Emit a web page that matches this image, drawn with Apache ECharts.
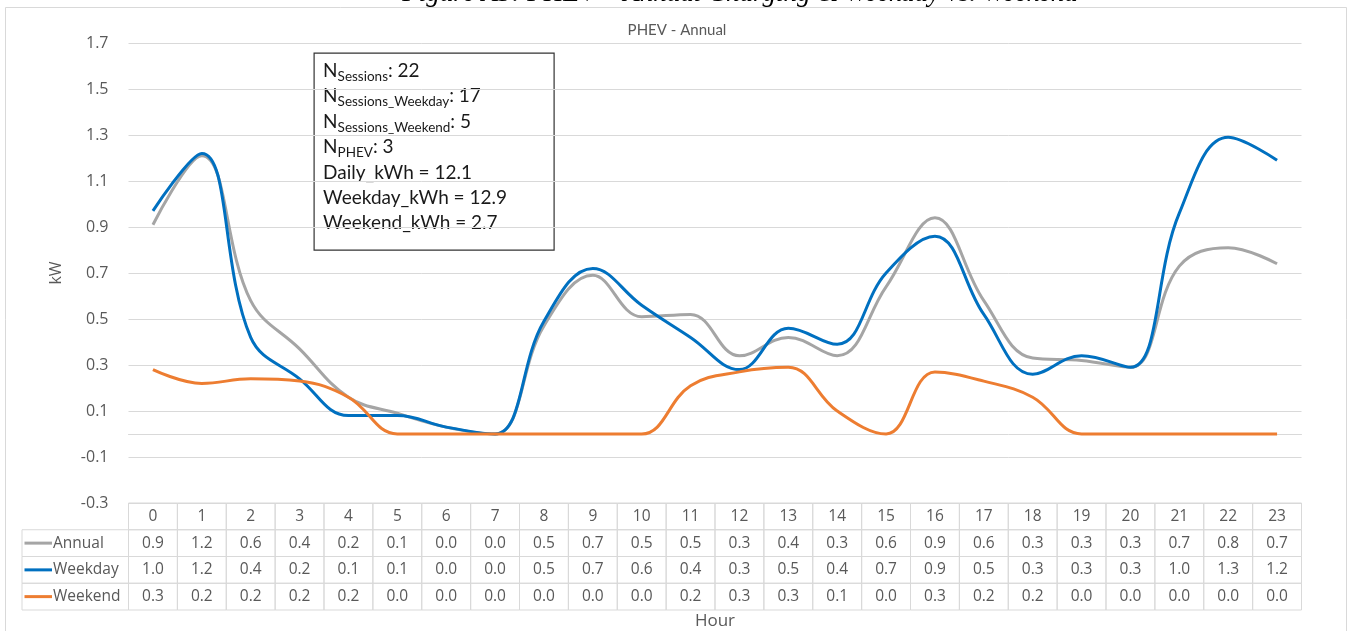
<!DOCTYPE html>
<html>
<head>
<meta charset="utf-8">
<script src="https://cdn.jsdelivr.net/npm/echarts@6/dist/echarts.min.js"></script>
<style>
  html, body { margin: 0; padding: 0; background: #fff; }
  #chart { width: 1354px; height: 631px; }
</style>
</head>
<body>
<div id="chart"></div>
<script>
// hours of the day
const hours = [0, 1, 2, 3, 4, 5, 6, 7, 8, 9, 10, 11, 12, 13, 14, 15, 16, 17, 18, 19, 20, 21, 22, 23]

// kW
const annual = [0.91, 1.21, 0.58, 0.37, 0.16, 0.09, 0.03, 0.0, 0.47, 0.69, 0.51, 0.52, 0.34, 0.42, 0.34, 0.64, 0.94, 0.58, 0.33, 0.32, 0.29, 0.73, 0.81, 0.74]
const weekday = [0.97, 1.22, 0.42, 0.24, 0.08, 0.08, 0.03, 0.0, 0.49, 0.72, 0.56, 0.42, 0.28, 0.46, 0.39, 0.70, 0.86, 0.52, 0.26, 0.34, 0.29, 0.96, 1.29, 1.19]
const weekend = [0.28, 0.22, 0.24, 0.23, 0.16, 0.0, 0.0, 0.0, 0.0, 0.0, 0.0, 0.21, 0.27, 0.29, 0.10, 0.0, 0.27, 0.23, 0.16, 0.0, 0.0, 0.0, 0.0, 0.0]

const seriesNames = ['Annual', 'Weekday', 'Weekend']
const seriesColors = ['#a5a5a5', '#0070c0', '#ed7d31']
const tableRows = ['', 'Annual', 'Weekday', 'Weekend']

const figureTitle = 'Figure A3: PHEV – Annual Charging & Weekday vs. Weekend'
const chartTitle = 'PHEV - Annual'

const yMin = -0.3
const yMax = 1.7
const yStep = 0.2

const FONT = '"Open Sans", "Noto Sans", sans-serif'
const BOX_FONT = 'Lato, "Noto Sans", sans-serif'

// table cells: header row of hours, then one row per series
const cells = []
const values = [annual, weekday, weekend]
hours.forEach((h, i) => {
  cells.push({ value: [i, 0], text: String(h) })
})
values.forEach((arr, r) => {
  arr.forEach((v, i) => {
    cells.push({ value: [i, r + 1], text: v.toFixed(1) })
  })
})

const myChart = echarts.init(document.getElementById('chart'), null, { renderer: 'canvas' })

const renderCell = (params, api) => {
  const cell = cells[params.dataIndex]
  const col = api.value(0)
  const row = api.value(1)
  const p = api.coord([col, row])
  const s = api.size([1, 1])
  const x0 = p[0] - s[0] / 2
  const y0 = p[1] - s[1] / 2
  const children = [
    {
      type: 'rect',
      shape: { x: x0, y: y0, width: s[0], height: s[1] },
      style: { fill: 'none', stroke: '#d9d9d9', lineWidth: 1 }
    },
    {
      type: 'text',
      x: p[0],
      y: p[1],
      style: { text: cell.text, align: 'center', verticalAlign: 'middle', fill: '#595959', font: '15.5px ' + FONT }
    }
  ]
  // legend key cell left of the first column
  if (col === 0 && row > 0) {
    const left = 22
    children.push({
      type: 'rect',
      shape: { x: left, y: y0, width: x0 - left, height: s[1] },
      style: { fill: 'none', stroke: '#d9d9d9', lineWidth: 1 }
    })
    children.push({
      type: 'line',
      shape: { x1: left + 2.5, y1: p[1], x2: left + 30, y2: p[1] },
      style: { stroke: seriesColors[row - 1], lineWidth: 3 }
    })
    children.push({
      type: 'text',
      x: left + 31,
      y: p[1],
      style: { text: seriesNames[row - 1], align: 'left', verticalAlign: 'middle', fill: '#595959', font: '15.5px ' + FONT }
    })
  }
  return { type: 'group', children: children }
}

const lineSeries = values.map((arr, i) => ({
  name: seriesNames[i],
  type: 'line',
  xAxisIndex: 0,
  yAxisIndex: 0,
  data: arr,
  smooth: 0.4,
  symbol: 'none',
  lineStyle: { color: seriesColors[i], width: 3 },
  itemStyle: { color: seriesColors[i] },
  z: 3 + i
}))

const option = {
  animation: false,
  backgroundColor: '#fff',
  textStyle: { fontFamily: FONT },
  title: {
    text: chartTitle,
    left: 'center',
    top: 18,
    textStyle: { fontFamily: BOX_FONT, fontSize: 15, fontWeight: 'normal', color: '#595959' }
  },
  grid: [
    { left: 128.5, right: 52.5, top: 43, bottom: 128 },
    { left: 128.5, right: 52.5, top: 503, bottom: 21 }
  ],
  xAxis: [
    {
      type: 'category',
      gridIndex: 0,
      data: hours,
      boundaryGap: true,
      axisLine: { show: true, onZero: true, lineStyle: { color: '#d9d9d9', width: 1 } },
      axisTick: { show: false },
      axisLabel: { show: false },
      splitLine: { show: false }
    },
    {
      type: 'category',
      gridIndex: 1,
      data: hours,
      boundaryGap: true,
      name: 'Hour',
      nameLocation: 'middle',
      nameGap: 3,
      nameTextStyle: { fontSize: 17, color: '#595959', verticalAlign: 'top' },
      axisLine: { show: false },
      axisTick: { show: false },
      axisLabel: { show: false },
      splitLine: { show: false }
    }
  ],
  yAxis: [
    {
      type: 'value',
      gridIndex: 0,
      min: yMin,
      max: yMax,
      interval: yStep,
      name: 'kW',
      nameLocation: 'middle',
      nameGap: 64,
      nameTextStyle: { fontSize: 16, color: '#595959' },
      axisLine: { show: false },
      axisTick: { show: false },
      axisLabel: {
        color: '#595959',
        fontSize: 16,
        margin: 20,
        formatter: (v) => v.toFixed(1)
      },
      splitLine: { show: true, lineStyle: { color: '#d9d9d9', width: 1 } }
    },
    {
      type: 'category',
      gridIndex: 1,
      data: tableRows,
      inverse: true,
      axisLine: { show: false },
      axisTick: { show: false },
      axisLabel: { show: false },
      splitLine: { show: false }
    }
  ],
  series: [
    ...lineSeries,
    {
      type: 'custom',
      xAxisIndex: 1,
      yAxisIndex: 1,
      data: cells.map(c => c.value),
      encode: { x: 0, y: 1 },
      renderItem: renderCell,
      silent: true,
      z: 2
    }
  ],
  graphic: [
    {
      type: 'rect',
      shape: { x: 5.5, y: 7.5, width: 1341, height: 640 },
      style: { fill: 'none', stroke: '#d9d9d9', lineWidth: 1 },
      silent: true
    },
    {
      type: 'text',
      x: 740,
      y: -6,
      style: {
        text: figureTitle,
        align: 'center',
        verticalAlign: 'middle',
        font: 'italic 27px "Liberation Serif", "DejaVu Serif", serif',
        fill: '#000'
      },
      silent: true
    },
    {
      type: 'group',
      left: 313.5,
      top: 52.5,
      children: [
        {
          type: 'rect',
          shape: { x: 0, y: 0, width: 240, height: 197 },
          style: { fill: '#fff', stroke: '#333', lineWidth: 1.2 }
        },
        {
          type: 'text',
          x: 9,
          y: 5,
          style: {
            text: [
              '{m|N}{s|Sessions}{m|: 22}',
              '{m|N}{s|Sessions_Weekday}{m|: 17}',
              '{m|N}{s|Sessions_Weekend}{m|: 5}',
              '{m|N}{s|PHEV}{m|: 3}',
              '{m|Daily_kWh = 12.1}',
              '{m|Weekday_kWh = 12.9}',
              '{m|Weekend_kWh = 2.7}'
            ].join('\n'),
            fill: '#1a1a1a',
            rich: {
              m: { fontFamily: BOX_FONT, fontSize: 19, lineHeight: 25.4, color: '#1a1a1a' },
              s: { fontFamily: BOX_FONT, fontSize: 13.5, lineHeight: 14, verticalAlign: 'bottom', color: '#1a1a1a' }
            }
          }
        }
      ]
    }
  ]
}

myChart.setOption(option)
</script>
</body>
</html>
